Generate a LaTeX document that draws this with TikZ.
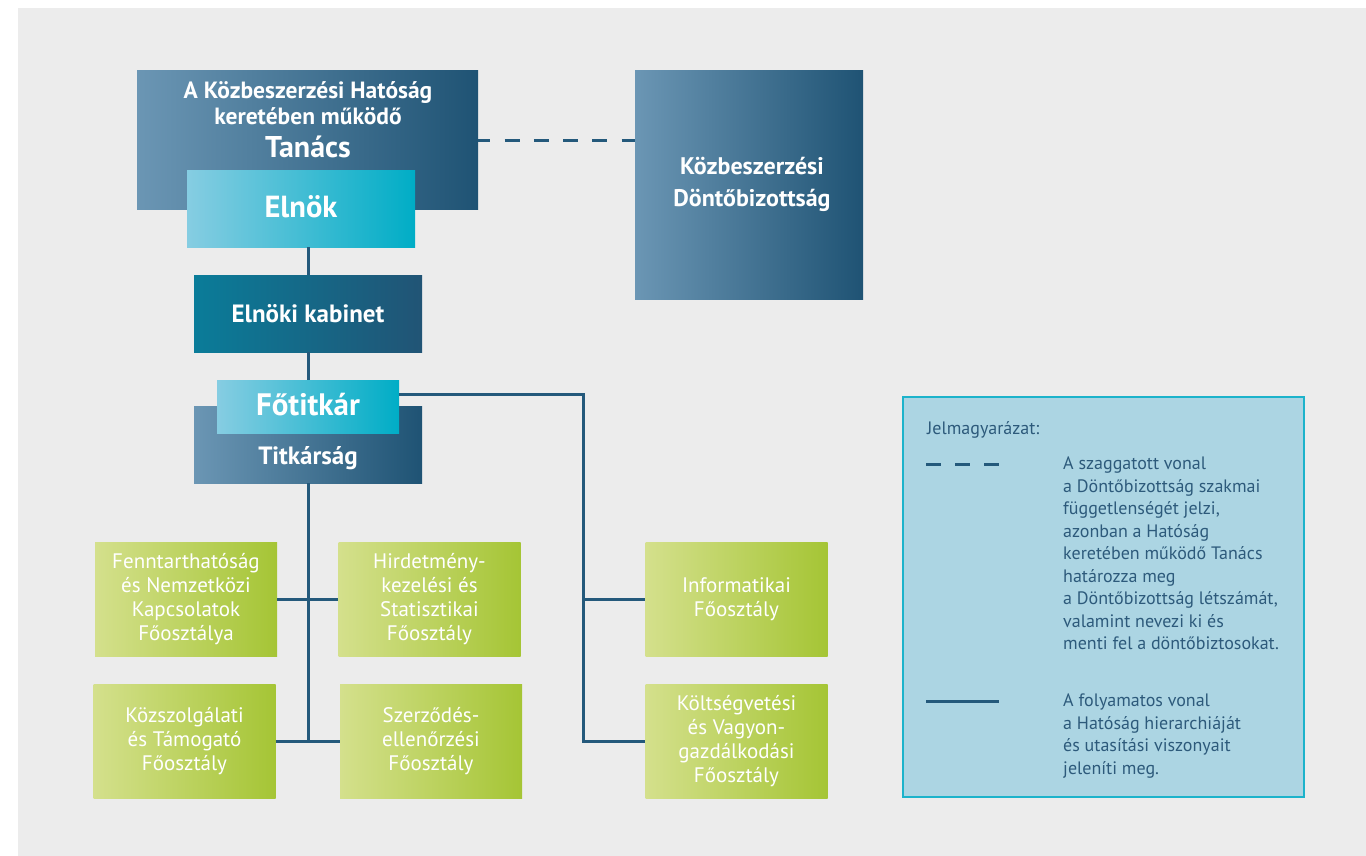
\documentclass[tikz,border=0pt]{standalone}
\usepackage{fontspec}
\setmainfont{PT Sans}
\usetikzlibrary{positioning}
\definecolor{bggray}{HTML}{ECECEC}
\definecolor{dbL}{HTML}{6B96B4}
\definecolor{dbR}{HTML}{1F5374}
\definecolor{cyL}{HTML}{86CDE2}
\definecolor{cyR}{HTML}{00ADC6}
\definecolor{kbL}{HTML}{0A7C99}
\definecolor{kbR}{HTML}{215475}
\definecolor{grL}{HTML}{D4E08C}
\definecolor{grR}{HTML}{A5C535}
\definecolor{lgFill}{HTML}{ACD5E3}
\definecolor{lgBorder}{HTML}{1CB3CB}
\definecolor{lnCol}{HTML}{24597B}
\definecolor{lgText}{HTML}{2D5A7B}
\tikzset{
  boxbase/.style={rectangle, inner sep=0pt, draw=none},
  darkbox/.style={boxbase, left color=dbL, right color=dbR},
  cyanbox/.style={boxbase, left color=cyL, right color=cyR},
  kabbox/.style={boxbase, left color=kbL, right color=kbR},
  greenbox/.style={boxbase, left color=grL, right color=grR, minimum width=182pt, minimum height=114pt,
    text=white, align=center, font=\fontsize{21}{24}\selectfont},
  wbold/.style={text=white, font=\bfseries\fontsize{#1}{#1}\selectfont, inner sep=0pt, anchor=base},
  conn/.style={draw=lnCol, line width=3pt},
  dashconn/.style={draw=lnCol, line width=3pt, dash pattern=on 15pt off 14.3pt, dash phase=3pt},
  lgtext/.style={text=lgText, font=\fontsize{18}{22.5}\selectfont, align=left, inner sep=0pt, anchor=base west},
}
\begin{document}
\begin{tikzpicture}[x=1pt, y=-1pt]
\useasboundingbox (0,0) rectangle (1366,856);
\fill[white] (0,0) rectangle (1366,856);
\fill[bggray] (18,8) rectangle (1366,856);

% top boxes
\node[darkbox, minimum width=341pt, minimum height=138pt] (tanacs) at (307.5,140) {};
\node[darkbox, minimum width=228pt, minimum height=228pt] (dont) at (749,185) {};
\node[cyanbox, minimum width=228pt, minimum height=76pt] (elnok) at (301,209) {};
\node[kabbox, minimum width=228pt, minimum height=77pt] (kabinet) at (308,313.5) {};
\node[darkbox, minimum width=228pt, minimum height=77pt] (titk) at (308,444.5) {};
\node[cyanbox, minimum width=182pt, minimum height=53pt] (fotitkar) at (308,406.5) {};

% texts of top boxes
\node[wbold=23.5] (t1) at (308,99) {A Közbeszerzési Hatóság};
\node[wbold=23.5] (t2) at (308,125) {keretében működő};
\node[wbold=30] (t3) at (308,158) {Tanács};
\node[wbold=30.5] (elnoktxt) at (301,217) {Elnök};
\node[wbold=24] (d1) at (752,175) {Közbeszerzési};
\node[wbold=24] (d2) at (752,207) {Döntőbizottság};
\node[wbold=25] (kabtxt) at (308,322) {Elnöki kabinet};
\node[wbold=31] (fotxt) at (308,415) {Főtitkár};
\node[wbold=25] (titktxt) at (308,464) {Titkárság};

% green boxes
\node[greenbox] (fenn) at (186,599) {Fenntarthatóság\\és Nemzetközi\\Kapcsolatok\\Főosztálya};
\node[greenbox] (hird) at (429.5,599) {Hirdetmény-\\kezelési és\\Statisztikai\\Főosztály};
\node[greenbox] (kozsz) at (184.5,741) {Közszolgálati\\és Támogató\\Főosztály};
\node[greenbox] (szerz) at (431,741) {Szerződés-\\ellenőrzési\\Főosztály};
\node[greenbox] (info) at (736.5,599) {Informatikai\\Főosztály};
\node[greenbox] (kolts) at (736.5,741) {Költségvetési\\és Vagyon-\\gazdálkodási\\Főosztály};

% connectors
\coordinate (trunkend) at (308,741);
\coordinate (rcorner) at (583,394);
\coordinate (rend) at (583,741);
\draw[dashconn] (tanacs.east |- 0,140.3) -- (dont.west |- 0,140.3);
\draw[conn] (elnok.south -| kabinet.north) -- (kabinet.north);
\draw[conn] (kabinet.south) -- (fotitkar.north);
\draw[conn] (titk.south) -- (trunkend);
\draw[conn] (fenn.east) -- (hird.west);
\draw[conn] (kozsz.east) -- (szerz.west);
\draw[conn] (fotitkar.east |- rcorner) -- (rcorner) -- (rend) -- (kolts.west);
\draw[conn] (rcorner |- info.west) -- (info.west);

% legend
\node[boxbase, fill=lgFill, draw=lgBorder, line width=2.5pt, minimum width=401pt, minimum height=400pt] (legend) at (1103.5,597) {};
\node[lgtext] (lgtitle) at (927,434) {Jelmagyarázat:};
\coordinate (da) at (926,464.3);
\coordinate (db) at (999,464.3);
\draw[draw=lnCol, line width=3pt, dash pattern=on 14.5pt off 14.5pt] (da) -- (db);
\coordinate (sa) at (926,701);
\coordinate (sb) at (999,701);
\draw[conn] (sa) -- (sb);
\node[lgtext, anchor=north west] (lg1) at (1063,456.5) {A szaggatott vonal\\a Döntőbizottság szakmai\\függetlenségét jelzi,\\azonban a Hatóság\\keretében működő Tanács\\határozza meg\\a Döntőbizottság létszámát,\\valamint nevezi ki és\\menti fel a döntőbiztosokat.};
\node[lgtext, anchor=north west] (lg2) at (1063,693.5) {A folyamatos vonal\\a Hatóság hierarchiáját\\és utasítási viszonyait\\jeleníti meg.};
\end{tikzpicture}
\end{document}
